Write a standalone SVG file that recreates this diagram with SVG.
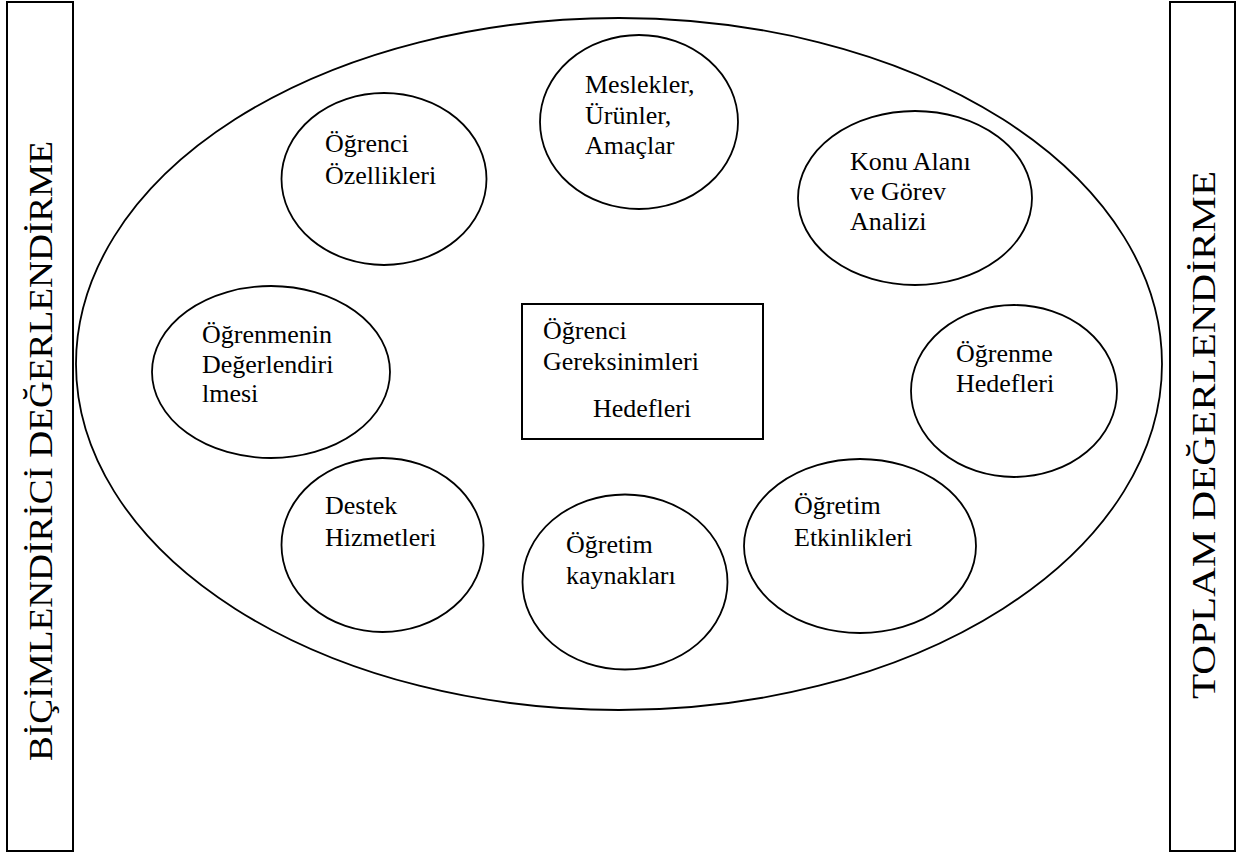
<svg xmlns="http://www.w3.org/2000/svg" width="1252" height="854" viewBox="0 0 1252 854">
<style>
.s{fill:none;stroke:#000;stroke-width:2}
.e{fill:#fff;stroke:#000;stroke-width:1.8}
.t{font-family:"Liberation Serif","Times New Roman",serif;font-size:26px;fill:#000}
.v{font-family:"Liberation Serif","Times New Roman",serif;font-size:34px;fill:#000;text-anchor:middle}
</style>
<rect width="1252" height="854" fill="#fff"/>
<g id="bicimlendirici">
<rect class="s" x="7" y="2" width="66" height="849"/>
<text class="v" transform="translate(52,451) rotate(-90)" textLength="620" lengthAdjust="spacingAndGlyphs">BİÇİMLENDİRİCİ DEĞERLENDİRME</text>
</g>
<g id="toplam">
<rect class="s" x="1170" y="2" width="65" height="849"/>
<text class="v" transform="translate(1215,435) rotate(-90)" textLength="528" lengthAdjust="spacingAndGlyphs">TOPLAM DEĞERLENDİRME</text>
</g>
<g id="cerceve">
<ellipse class="e" cx="619" cy="364" rx="543" ry="346"/>
</g>
<g id="connectors"></g>
<g id="ogrenci-ozellikleri">
<ellipse class="e" cx="384" cy="179" rx="102.5" ry="86"/>
<text class="t" x="325" y="152">Öğrenci</text>
<text class="t" x="325" y="184">Özellikleri</text>
</g>
<g id="meslekler">
<ellipse class="e" cx="639" cy="122" rx="99" ry="87"/>
<text class="t" x="585" y="93">Meslekler,</text>
<text class="t" x="585" y="124">Ürünler,</text>
<text class="t" x="585" y="154">Amaçlar</text>
</g>
<g id="konu-alani">
<ellipse class="e" cx="915" cy="198" rx="117" ry="87"/>
<text class="t" x="850" y="170">Konu Alanı</text>
<text class="t" x="850" y="200">ve Görev</text>
<text class="t" x="850" y="230">Analizi</text>
</g>
<g id="ogrenmenin-degerlendirilmesi">
<ellipse class="e" cx="271" cy="372" rx="119" ry="86"/>
<text class="t" x="202" y="343">Öğrenmenin</text>
<text class="t" x="202" y="373">Değerlendiri</text>
<text class="t" x="202" y="402">lmesi</text>
</g>
<g id="ogrenci-gereksinimleri">
<rect class="s" x="522" y="304" width="241" height="135" fill="#fff"/>
<text class="t" x="543" y="339">Öğrenci</text>
<text class="t" x="543" y="370">Gereksinimleri</text>
<text class="t" x="593" y="417">Hedefleri</text>
</g>
<g id="ogrenme-hedefleri">
<ellipse class="e" cx="1014" cy="391" rx="103" ry="86"/>
<text class="t" x="956" y="362">Öğrenme</text>
<text class="t" x="956" y="392">Hedefleri</text>
</g>
<g id="destek-hizmetleri">
<ellipse class="e" cx="382.5" cy="545" rx="101" ry="87"/>
<text class="t" x="325" y="514">Destek</text>
<text class="t" x="325" y="546">Hizmetleri</text>
</g>
<g id="ogretim-kaynaklari">
<ellipse class="e" cx="625" cy="582" rx="102.5" ry="87.5"/>
<text class="t" x="566" y="553">Öğretim</text>
<text class="t" x="566" y="584">kaynakları</text>
</g>
<g id="ogretim-etkinlikleri">
<ellipse class="e" cx="860" cy="546" rx="116" ry="87"/>
<text class="t" x="794" y="514">Öğretim</text>
<text class="t" x="794" y="546">Etkinlikleri</text>
</g>
</svg>
